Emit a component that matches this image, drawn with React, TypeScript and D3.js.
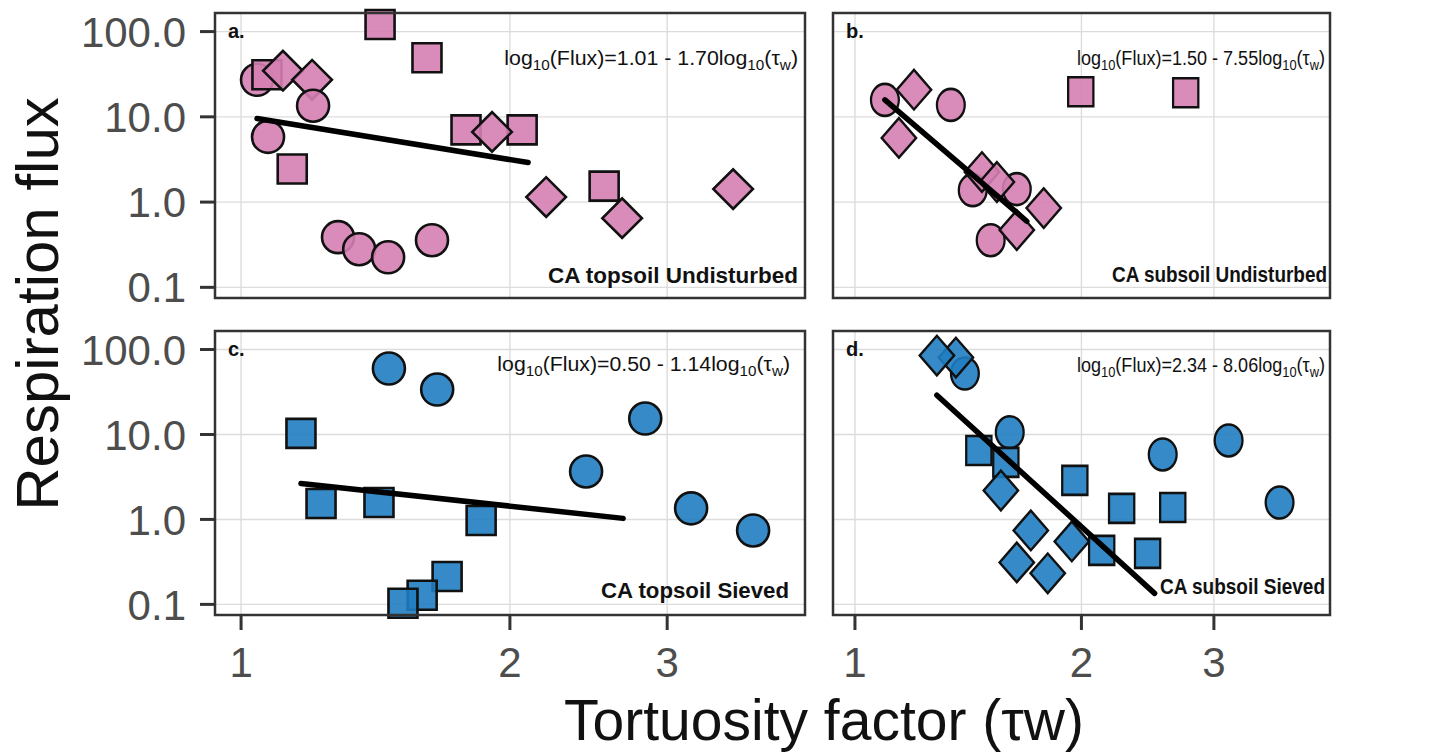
import { useEffect, useRef } from 'react'
import * as d3 from 'd3'

type Shape = 'circle' | 'square' | 'diamond'
interface Pt { tau: number; flux: number; shape: Shape }

// CA topsoil Undisturbed
const panelA: Pt[] = [
  { tau: 1.042, flux: 27.2, shape: 'circle' },
  { tau: 1.069, flux: 31.2, shape: 'square' },
  { tau: 1.114, flux: 34.8, shape: 'diamond' },
  { tau: 1.201, flux: 27.2, shape: 'diamond' },
  { tau: 1.204, flux: 13.5, shape: 'circle' },
  { tau: 1.072, flux: 5.82, shape: 'circle' },
  { tau: 1.141, flux: 2.44, shape: 'square' },
  { tau: 1.431, flux: 120.9, shape: 'square' },
  { tau: 1.615, flux: 49.4, shape: 'square' },
  { tau: 1.284, flux: 0.388, shape: 'circle' },
  { tau: 1.356, flux: 0.28, shape: 'circle' },
  { tau: 1.461, flux: 0.225, shape: 'circle' },
  { tau: 1.636, flux: 0.357, shape: 'circle' },
  { tau: 1.786, flux: 7.03, shape: 'square' },
  { tau: 2.064, flux: 7.03, shape: 'square' },
  { tau: 1.91, flux: 6.66, shape: 'diamond' },
  { tau: 2.196, flux: 1.145, shape: 'diamond' },
  { tau: 2.55, flux: 1.54, shape: 'square' },
  { tau: 2.671, flux: 0.648, shape: 'diamond' },
  { tau: 3.556, flux: 1.42, shape: 'diamond' },
]

// CA subsoil Undisturbed
const panelB: Pt[] = [
  { tau: 1.096, flux: 15.8, shape: 'circle' },
  { tau: 1.198, flux: 20.8, shape: 'diamond' },
  { tau: 1.341, flux: 13.8, shape: 'circle' },
  { tau: 1.144, flux: 5.66, shape: 'diamond' },
  { tau: 1.434, flux: 1.38, shape: 'circle' },
  { tau: 1.641, flux: 1.42, shape: 'circle' },
  { tau: 1.475, flux: 2.25, shape: 'diamond' },
  { tau: 1.544, flux: 1.72, shape: 'diamond' },
  { tau: 1.782, flux: 0.85, shape: 'diamond' },
  { tau: 1.515, flux: 0.357, shape: 'circle' },
  { tau: 1.641, flux: 0.469, shape: 'diamond' },
  { tau: 1.996, flux: 19.7, shape: 'square' },
  { tau: 2.752, flux: 19.2, shape: 'square' },
]

// CA topsoil Sieved
const panelC: Pt[] = [
  { tau: 1.464, flux: 59.8, shape: 'circle' },
  { tau: 1.658, flux: 33.8, shape: 'circle' },
  { tau: 1.167, flux: 10.3, shape: 'square' },
  { tau: 1.229, flux: 1.54, shape: 'square' },
  { tau: 1.427, flux: 1.58, shape: 'square' },
  { tau: 1.701, flux: 0.213, shape: 'square' },
  { tau: 1.595, flux: 0.128, shape: 'square' },
  { tau: 1.518, flux: 0.103, shape: 'square' },
  { tau: 1.857, flux: 0.973, shape: 'square' },
  { tau: 2.434, flux: 3.67, shape: 'circle' },
  { tau: 2.835, flux: 15.4, shape: 'circle' },
  { tau: 3.191, flux: 1.35, shape: 'circle' },
  { tau: 3.744, flux: 0.742, shape: 'circle' },
]

// CA subsoil Sieved
const panelD: Pt[] = [
  { tau: 1.4, flux: 52.2, shape: 'circle' },
  { tau: 1.362, flux: 80.5, shape: 'diamond' },
  { tau: 1.285, flux: 85.0, shape: 'diamond' },
  { tau: 1.606, flux: 10.6, shape: 'circle' },
  { tau: 1.461, flux: 6.48, shape: 'square' },
  { tau: 1.587, flux: 4.69, shape: 'square' },
  { tau: 1.563, flux: 2.19, shape: 'diamond' },
  { tau: 1.96, flux: 2.88, shape: 'square' },
  { tau: 2.262, flux: 1.35, shape: 'square' },
  { tau: 2.645, flux: 1.38, shape: 'square' },
  { tau: 2.565, flux: 5.82, shape: 'circle' },
  { tau: 3.138, flux: 8.5, shape: 'circle' },
  { tau: 3.668, flux: 1.58, shape: 'circle' },
  { tau: 1.713, flux: 0.742, shape: 'diamond' },
  { tau: 1.942, flux: 0.551, shape: 'diamond' },
  { tau: 2.128, flux: 0.432, shape: 'square' },
  { tau: 2.449, flux: 0.398, shape: 'square' },
  { tau: 1.641, flux: 0.312, shape: 'diamond' },
  { tau: 1.804, flux: 0.232, shape: 'diamond' },
]

const panelData = [panelA, panelB, panelC, panelD]
const panelTags = ['a.', 'b.', 'c.', 'd.']
const panelNames = ['CA topsoil Undisturbed', 'CA subsoil Undisturbed', 'CA topsoil Sieved', 'CA subsoil Sieved']
// regression log10(Flux) = intercept + slope * log10(tau), drawn over [from, to]
const intercepts = [1.01, 1.5, 0.5, 2.34]
const slopes = [-1.7, -7.55, -1.14, -8.06]
const fitFrom = [1.042, 1.096, 1.167, 1.285]
const fitTo = [2.096, 1.692, 2.678, 2.502]
const interceptLabels = ['1.01', '1.50', '0.50', '2.34']
const slopeLabels = ['1.70', '7.55', '1.14', '8.06']

const xTicks = [1, 2, 3]
const yTicks = [0.1, 1, 10, 100]

const PINK = '#d580b3'
const BLUE = '#1f7dc1'

export default function App() {
  const svgRef = useRef<SVGSVGElement>(null)

  useEffect(() => {
    if (!svgRef.current) return
    const svg = d3.select(svgRef.current)
    svg.selectAll('*').remove()

    const font = '"Liberation Sans", Arial, sans-serif'
    // right column of the figure is squeezed horizontally (sx)
    const boxes = [
      { left: 215, right: 805, top: 13, bottom: 298, sx: 1, eqRight: 798, eqY: 65, eqW: 296, nameRight: 798, nameY: 283, nameW: 250 },
      { left: 833, right: 1330, top: 13, bottom: 298, sx: 0.87, eqRight: 1325, eqY: 65, eqW: 250, nameRight: 1327, nameY: 282, nameW: 215 },
      { left: 215, right: 805, top: 331, bottom: 615, sx: 1, eqRight: 790, eqY: 371, eqW: 295, nameRight: 789, nameY: 598, nameW: 188 },
      { left: 833, right: 1330, top: 331, bottom: 615, sx: 0.87, eqRight: 1325, eqY: 372, eqW: 250, nameRight: 1325, nameY: 594, nameW: 165 },
    ]

    boxes.forEach((b, i) => {
      const data = panelData[i]
      const x = d3.scaleLog().domain([0.935, 4.28]).range([b.left, b.right])
      const y = d3.scaleLog().domain([Math.pow(10, -1.125), Math.pow(10, 2.218)]).range([b.bottom, b.top])
      const g = svg.append('g')
      const fill = i < 2 ? PINK : BLUE

      // grid
      g.selectAll('.gx').data(xTicks).enter().append('line')
        .attr('x1', d => x(d)).attr('x2', d => x(d))
        .attr('y1', b.top).attr('y2', b.bottom)
        .attr('stroke', '#dcdcdc').attr('stroke-width', 1.4)
      g.selectAll('.gy').data(yTicks).enter().append('line')
        .attr('x1', b.left).attr('x2', b.right)
        .attr('y1', d => y(d)).attr('y2', d => y(d))
        .attr('stroke', '#dcdcdc').attr('stroke-width', 1.4)

      // points
      const sym = (s: Shape) => {
        if (s === 'circle') return d3.symbol().type(d3.symbolCircle).size(Math.PI * 16 * 16)()
        if (s === 'square') return d3.symbol().type(d3.symbolSquare).size(29 * 29)()
        return d3.symbol().type(d3.symbolSquare).size(28 * 28)()
      }
      g.selectAll('.pt').data(data).enter().append('path')
        .attr('d', d => sym(d.shape) as string)
        .attr('transform', d => `translate(${x(d.tau)},${y(d.flux)}) scale(${b.sx},1)` + (d.shape === 'diamond' ? ' rotate(45)' : ''))
        .attr('fill', fill)
        .attr('fill-opacity', 0.9)
        .attr('stroke', '#111')
        .attr('stroke-width', 2.6)

      // fitted line
      const line = d3.line<number>()
        .x(t => x(t))
        .y(t => y(Math.pow(10, intercepts[i] + slopes[i] * Math.log10(t))))
      g.append('path')
        .attr('d', line([fitFrom[i], fitTo[i]]) as string)
        .attr('stroke', '#000').attr('stroke-width', 5.5).attr('stroke-linecap', 'round')
        .attr('fill', 'none')

      // border
      g.append('rect')
        .attr('x', b.left).attr('y', b.top)
        .attr('width', b.right - b.left).attr('height', b.bottom - b.top)
        .attr('fill', 'none').attr('stroke', '#333').attr('stroke-width', 2.5)

      // y axis on left column
      if (i % 2 === 0) {
        g.selectAll('.yt').data(yTicks).enter().append('line')
          .attr('x1', b.left - 15).attr('x2', b.left)
          .attr('y1', d => y(d)).attr('y2', d => y(d))
          .attr('stroke', '#333').attr('stroke-width', 3)
        g.selectAll('.yl').data(yTicks).enter().append('text')
          .attr('x', b.left - 29).attr('y', d => y(d)).attr('dy', '0.36em')
          .attr('text-anchor', 'end')
          .attr('font-family', font).attr('font-size', 42).attr('fill', '#4d4d4d')
          .text(d => d3.format('.1f')(d))
      }
      // x axis on bottom row
      if (i >= 2) {
        g.selectAll('.xt').data(xTicks).enter().append('line')
          .attr('x1', d => x(d)).attr('x2', d => x(d))
          .attr('y1', b.bottom).attr('y2', b.bottom + 15)
          .attr('stroke', '#333').attr('stroke-width', 3)
        g.selectAll('.xl').data(xTicks).enter().append('text')
          .attr('x', d => x(d)).attr('y', b.bottom + 62)
          .attr('text-anchor', 'middle')
          .attr('font-family', font).attr('font-size', 42).attr('fill', '#4d4d4d')
          .text(d => String(d))
      }

      // panel tag
      g.append('text')
        .attr('x', b.left + 13).attr('y', b.top + 25)
        .attr('font-family', font).attr('font-size', 20).attr('font-weight', 'bold')
        .attr('fill', '#111')
        .text(panelTags[i])

      // equation (natural width ~291px at 21px, scaled to fit reference width)
      const eq = g.append('g')
        .attr('transform', `translate(${b.eqRight},${b.eqY}) scale(${b.eqW / 291},1)`)
        .append('text')
        .attr('text-anchor', 'end')
        .attr('font-family', font).attr('font-size', 21).attr('fill', '#111')
      const sub = (s: string) => {
        eq.append('tspan').attr('dy', 5).attr('font-size', 15).text(s)
      }
      const norm = (s: string) => {
        eq.append('tspan').attr('dy', -5).text(s)
      }
      eq.append('tspan').text('log')
      sub('10')
      norm(`(Flux)=${interceptLabels[i]} - ${slopeLabels[i]}log`)
      sub('10')
      norm('(τ')
      sub('w')
      norm(')')

      // name
      g.append('text')
        .attr('x', b.nameRight - b.nameW).attr('y', b.nameY)
        .attr('textLength', b.nameW).attr('lengthAdjust', 'spacingAndGlyphs')
        .attr('font-family', font).attr('font-size', 22).attr('font-weight', 'bold')
        .attr('fill', '#111')
        .text(panelNames[i])
    })

    // axis titles
    svg.append('text')
      .attr('transform', 'translate(58,304) rotate(-90)')
      .attr('text-anchor', 'middle')
      .attr('font-family', font).attr('font-size', 60).attr('fill', '#111')
      .text('Respiration flux')
    svg.append('text')
      .attr('x', 824).attr('y', 740)
      .attr('text-anchor', 'middle')
      .attr('font-family', font).attr('font-size', 57).attr('fill', '#111')
      .text('Tortuosity factor (τw)')
  }, [])

  return (
    <svg ref={svgRef} width={1440} height={755}
      style={{ position: 'absolute', left: 0, top: 0, background: '#fff' }} />
  )
}
